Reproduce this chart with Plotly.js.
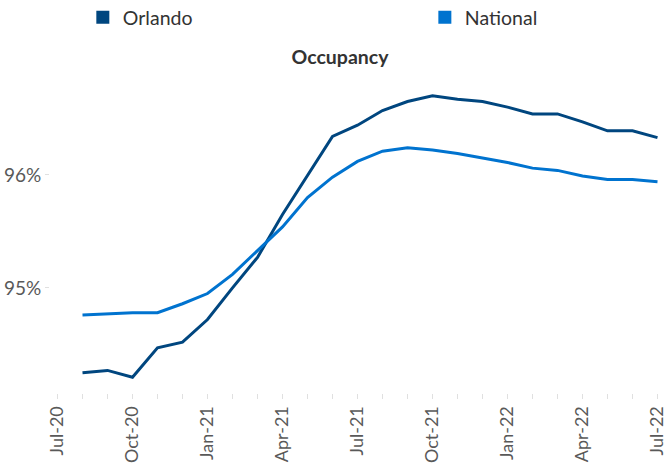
<!DOCTYPE html>
<html>
<head>
<meta charset="utf-8">
<script src="https://cdn.plot.ly/plotly-3.0.1.min.js"></script>
<style>html,body{margin:0;padding:0;background:#fff;}#chart{width:668px;height:463px;}</style>
</head>
<body>
<div id="chart"></div>
<script>
const months = ["Jul-20","Aug-20","Sep-20","Oct-20","Nov-20","Dec-20","Jan-21","Feb-21","Mar-21","Apr-21","May-21","Jun-21","Jul-21","Aug-21","Sep-21","Oct-21","Nov-21","Dec-21","Jan-22","Feb-22","Mar-22","Apr-22","May-22","Jun-22","Jul-22"];
const tickLabels = ["Jul-20","Oct-20","Jan-21","Apr-21","Jul-21","Oct-21","Jan-22","Apr-22","Jul-22"];
const orlando = [null,94.25,94.27,94.21,94.47,94.52,94.72,95.00,95.27,95.65,95.99,96.34,96.44,96.57,96.65,96.70,96.67,96.65,96.60,96.54,96.54,96.47,96.39,96.39,96.33];
const national = [null,94.76,94.77,94.78,94.78,94.86,94.95,95.12,95.33,95.54,95.80,95.98,96.12,96.21,96.24,96.22,96.19,96.15,96.11,96.06,96.04,95.99,95.96,95.96,95.94];
const yTicks = [95, 96];
const yTickText = ["95%", "96%"];

const cOrl = "#00467F", cNat = "#0073CF";
const FONT = "Lato, 'Open Sans', sans-serif";

const traces = [
  {x: months, y: orlando, type: "scatter", mode: "lines", line: {color: cOrl, width: 3}, showlegend: false, name: "Orlando"},
  {x: months, y: national, type: "scatter", mode: "lines", line: {color: cNat, width: 3}, showlegend: false, name: "National"},
  {x: [null], y: [null], type: "scatter", mode: "markers", marker: {symbol: "square", size: 13, color: cOrl}, name: "Orlando", legend: "legend"},
  {x: [null], y: [null], type: "scatter", mode: "markers", marker: {symbol: "square", size: 13, color: cNat}, name: "National", legend: "legend2"}
];

const legendBase = {orientation: "h", xref: "container", yref: "container", y: 0.962, xanchor: "left", yanchor: "middle",
                    font: {family: FONT, size: 19.5, color: "#333"}, itemwidth: 30, bgcolor: "rgba(0,0,0,0)"};

const layout = {
  width: 668, height: 463,
  margin: {l: 50, r: 3, t: 80, b: 70},
  paper_bgcolor: "#fff", plot_bgcolor: "#fff",
  font: {family: FONT, color: "#595959", size: 18},
  title: {text: "<b>Occupancy</b>", font: {family: FONT, size: 19.5, color: "#333"}, xref: "container", x: 0.509, xanchor: "center", yref: "container", y: 0.877, yanchor: "middle"},
  showlegend: true,
  legend: Object.assign({}, legendBase, {x: 0.124}),
  legend2: Object.assign({}, legendBase, {x: 0.636}),
  xaxis: {type: "category", categoryorder: "array", categoryarray: months, range: [-0.3, 24.3],
          tickmode: "array", tickvals: months, ticktext: months.map(m => tickLabels.includes(m) ? m : ""),
          tickangle: -90, ticks: "outside", ticklen: 5, tickcolor: "#e0e0e0", tickwidth: 1,
          showgrid: false, zeroline: false, showline: false, tickfont: {size: 18, color: "#595959"}, automargin: false},
  yaxis: {range: [94.07, 96.84], tickmode: "array", tickvals: yTicks, ticktext: yTickText,
          ticks: "outside", ticklen: 4, tickcolor: "#e0e0e0", showgrid: false, zeroline: false, showline: false,
          ticklabelstandoff: 0, tickfont: {size: 19, color: "#595959"}, automargin: false}
};

Plotly.newPlot("chart", traces, layout, {displayModeBar: false, staticPlot: true});
</script>
</body>
</html>
